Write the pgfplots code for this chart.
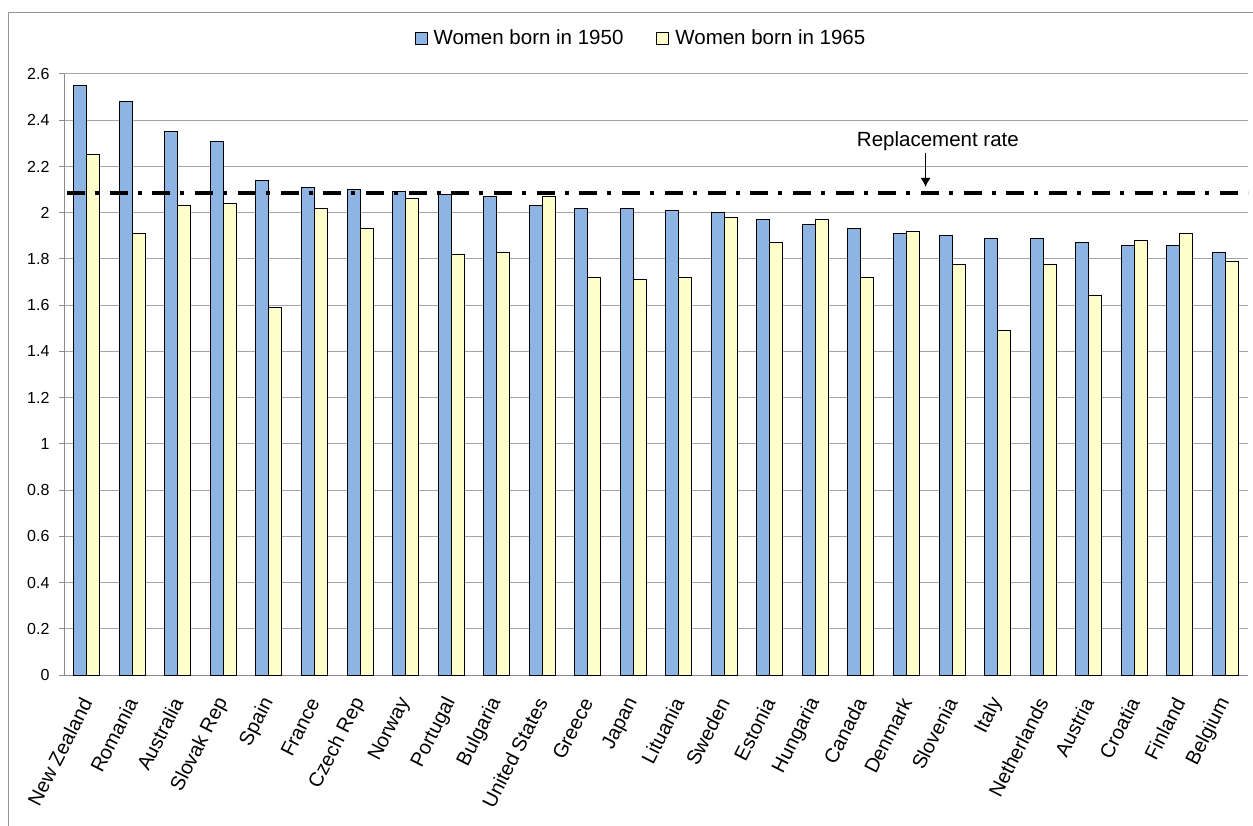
\documentclass[border=0pt]{standalone}
\usepackage{fontspec}
\setmainfont{Liberation Sans}
\usepackage{pgfplots}
\usepackage{pgfplotstable}
\pgfplotsset{compat=1.18}
\usetikzlibrary{arrows.meta}

\definecolor{bornA}{RGB}{141,180,226}
\definecolor{bornB}{RGB}{255,255,204}
\definecolor{gridgray}{RGB}{165,165,165}
\definecolor{axisgray}{RGB}{140,140,140}
\definecolor{framegray}{RGB}{150,150,150}

% Completed fertility by cohort: idx, women born 1950, women born 1965
\pgfplotstableread{
idx b1950 b1965
0  2.55 2.25
1  2.48 1.91
2  2.35 2.03
3  2.31 2.04
4  2.14 1.59
5  2.11 2.02
6  2.10 1.93
7  2.09 2.06
8  2.08 1.82
9  2.07 1.83
10 2.03 2.07
11 2.02 1.72
12 2.02 1.71
13 2.01 1.72
14 2.00 1.98
15 1.97 1.87
16 1.95 1.97
17 1.93 1.72
18 1.91 1.92
19 1.90 1.775
20 1.89 1.49
21 1.89 1.775
22 1.87 1.64
23 1.86 1.88
24 1.86 1.91
25 1.83 1.79
}\fertility

\begin{document}
\begin{tikzpicture}
\useasboundingbox (0pt,0pt) rectangle (1253pt,-826pt);
\fill[white] (0pt,0pt) rectangle (1253pt,-826pt);
\draw[framegray, line width=1.2pt] (8.5pt,-830pt) -- (8.5pt,-12.5pt) -- (1260pt,-12.5pt);
\begin{axis}[
  at={(64pt,-675pt)}, anchor=south west,
  scale only axis, width=1184pt, height=601pt,
  ybar=0pt, bar width=13pt,
  xmin=-0.5, xmax=25.5, ymin=0, ymax=2.6,
  axis x line*=bottom, axis y line*=left,
  axis line style={axisgray, line width=1pt, -},
  ytick={0,0.2,0.4,0.6,0.8,1,1.2,1.4,1.6,1.8,2,2.2,2.4,2.6},
  ymajorgrids, major grid style={gridgray, line width=1pt},
  tick align=outside, major tick length=5pt,
  tick style={axisgray, line width=1pt},
  /pgf/number format/assume math mode=true,
  yticklabel style={font=\fontsize{16}{16}\selectfont, xshift=-6pt},
  xtick={0,...,25},
  xtick style={draw=none},
  xticklabels={New Zealand, Romania, Australia, Slovak Rep, Spain, France, Czech Rep, Norway, Portugal, Bulgaria, United States, Greece, Japan, Lituania, Sweden, Estonia, Hungaria, Canada, Denmark, Slovenia, Italy, Netherlands, Austria, Croatia, Finland, Belgium},
  xticklabel style={rotate=63, anchor=east, font=\fontsize{20}{20}\selectfont, xshift=-13.8pt, yshift=-8.6pt},
  extra x ticks={-0.5,0.5,1.5,2.5,3.5,4.5,5.5,6.5,7.5,8.5,9.5,10.5,11.5,12.5,13.5,14.5,15.5,16.5,17.5,18.5,19.5,20.5,21.5,22.5,23.5,24.5,25.5},
  extra x tick labels={},
  extra x tick style={grid=none, tick style={axisgray, line width=1pt, draw=axisgray}, major tick length=7pt},
  legend style={at={(0.4873,1.0599)}, anchor=center, draw=none, fill=none,
    legend columns=2, font=\fontsize{20.5}{21}\selectfont,
    /tikz/every even column/.append style={column sep=31pt},
    /tikz/every odd column/.append style={column sep=4pt},
    inner sep=0pt},
  legend image code/.code={\draw[#1, line width=0.9pt] (0pt,-6pt) rectangle (12pt,6pt);},
]
\addplot[fill=bornA, draw=black, line width=0.9pt] table[x=idx, y=b1950] {\fertility};
\addlegendentry{Women born in 1950}
\addplot[fill=bornB, draw=black, line width=0.9pt] table[x=idx, y=b1965] {\fertility};
\addlegendentry{Women born in 1965}
% replacement level of fertility
\addplot[forget plot, sharp plot, black, line width=4pt,
  dash pattern=on 18pt off 10pt on 4pt off 10.7pt]
  coordinates {(-0.434,2.085) (25.5,2.085)};
\node[font=\fontsize{20.5}{21}\selectfont] at (axis cs:18.69,2.31) {Replacement rate};
\draw[-{Latex[length=9pt,width=10pt]}, line width=1pt] (axis cs:18.42,2.26) -- (axis cs:18.42,2.112);
\end{axis}
\end{tikzpicture}
\end{document}
